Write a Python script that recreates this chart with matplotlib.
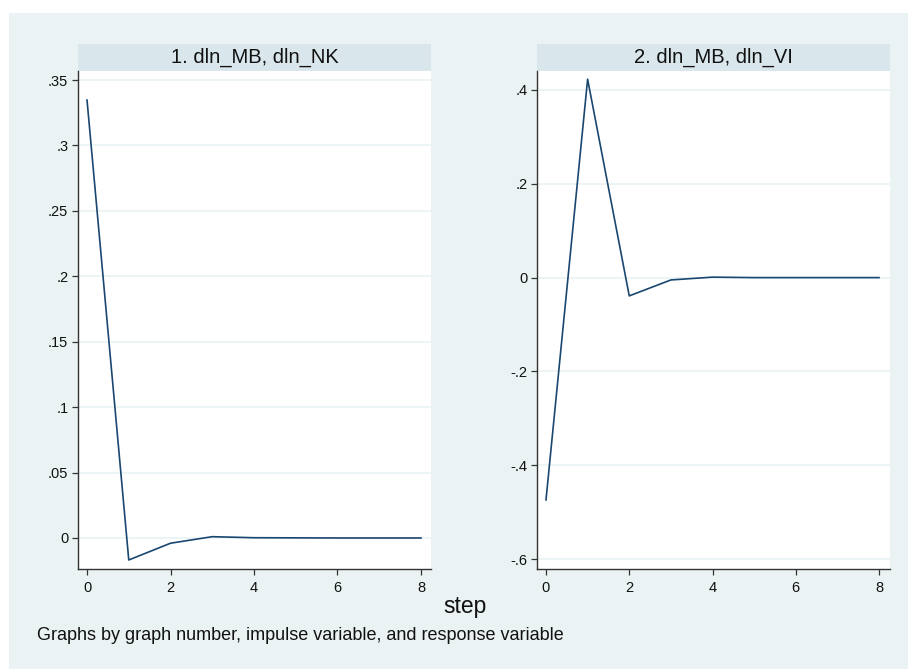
import matplotlib
matplotlib.use('Agg')
import matplotlib.pyplot as plt
from matplotlib.patches import Rectangle

plt.rcParams['font.family'] = ['Liberation Sans', 'DejaVu Sans']

# 数据
steps = [0, 1, 2, 3, 4, 5, 6, 7, 8]
irf_nk = [0.3347, -0.0168, -0.0040, 0.0010, 0.0002, 0.0001, 0.0, 0.0, 0.0]
irf_vi = [-0.474, 0.423, -0.039, -0.005, 0.001, 0.0, 0.0, 0.0, 0.0]
titles = ['1. dln_MB, dln_NK', '2. dln_MB, dln_VI']
yticks_nk = [0, 0.05, 0.1, 0.15, 0.2, 0.25, 0.3, 0.35]
ylabels_nk = ['0', '.05', '.1', '.15', '.2', '.25', '.3', '.35']
yticks_vi = [-0.6, -0.4, -0.2, 0, 0.2, 0.4]
ylabels_vi = ['-.6', '-.4', '-.2', '0', '.2', '.4']
xticks = [0, 2, 4, 6, 8]

W, H = 908, 669
bg = '#eaf2f3'
strip = '#d9e6eb'
line_color = '#1a476f'

fig = plt.figure(figsize=(W / 100, H / 100), dpi=100)
fig.patch.set_facecolor('white')


def box(x1, y1, x2, y2):
    # 像素坐标 -> figure 坐标
    return [x1 / W, 1 - y2 / H, (x2 - x1) / W, (y2 - y1) / H]


# 背景
fig.patches.append(Rectangle((9 / W, 0), 1 - 9 / W, 1 - 13 / H,
                             transform=fig.transFigure, facecolor=bg,
                             edgecolor='none', zorder=-10))

panels = [
    (78, 431, irf_nk, yticks_nk, ylabels_nk, (-0.216, 8.24), (-0.0237, 0.3569)),
    (537, 890, irf_vi, yticks_vi, ylabels_vi, (-0.216, 8.264), (-0.6213, 0.4405)),
]

for i, (x1, x2, vals, yt, yl, xlim, ylim) in enumerate(panels):
    # 标题条
    fig.patches.append(Rectangle((x1 / W, 1 - 71 / H), (x2 - x1) / W, 27 / H,
                                 transform=fig.transFigure, facecolor=strip,
                                 edgecolor='none', zorder=-5))
    fig.text((x1 + x2) / 2 / W, 1 - 57.5 / H, titles[i], ha='center', va='center',
             fontsize=14.5, color='#111111')

    ax = fig.add_axes(box(x1, 71, x2, 569))
    ax.set_zorder(1)
    ax.set_facecolor('white')
    ax.plot(steps, vals, color=line_color, linewidth=1.2, zorder=3)
    ax.set_xlim(*xlim)
    ax.set_ylim(*ylim)
    ax.set_xticks(xticks)
    ax.set_yticks(yt)
    ax.set_yticklabels(yl)
    ax.grid(axis='y', color=bg, linewidth=1.2)
    ax.grid(axis='x', visible=False)
    for s in ['top', 'right']:
        ax.spines[s].set_visible(False)
    for s in ['left', 'bottom']:
        ax.spines[s].set_color('#333333')
        ax.spines[s].set_linewidth(1.0)
    ax.tick_params(axis='both', length=4, width=0.9, color='#333333',
                   labelsize=10.5, labelcolor='#111111')
    ax.tick_params(axis='y', pad=3)
    ax.tick_params(axis='x', pad=5)

fig.text(465 / W, 1 - 607 / H, 'step', ha='center', va='center', fontsize=16.5, color='#111111')
fig.text(37 / W, 1 - 636 / H, 'Graphs by graph number, impulse variable, and response variable',
         ha='left', va='center', fontsize=13, color='#111111')

fig.savefig('out.png', dpi=100)
